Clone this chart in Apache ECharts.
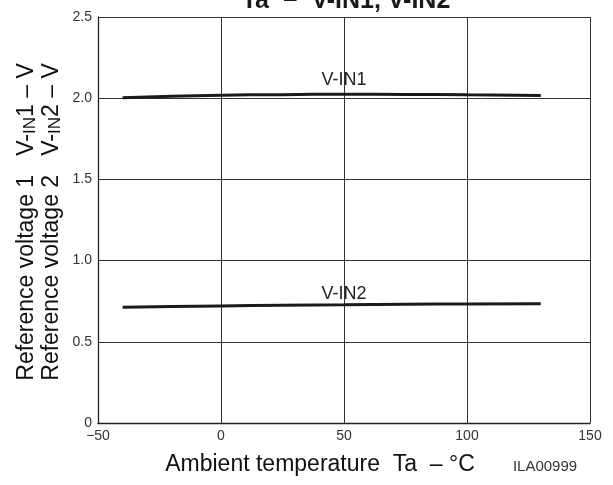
<!DOCTYPE html>
<html><head><meta charset="utf-8">
<script src="https://cdn.jsdelivr.net/npm/echarts@6/dist/echarts.min.js"></script>
<style>html,body{margin:0;padding:0;background:#fff}#c{width:613px;height:485px}</style>
</head><body><div id="c"></div>
<script>
var temps = [-40, -20, 0, 25, 50, 75, 100, 130];
var vin1 = [2.003, 2.012, 2.018, 2.022, 2.024, 2.023, 2.021, 2.016];
var vin2 = [0.712, 0.717, 0.721, 0.725, 0.728, 0.731, 0.733, 0.735];
var xTicks = [-50, 0, 50, 100, 150];
var yTicks = [0, 0.5, 1.0, 1.5, 2.0, 2.5];
var FONT = '"Liberation Sans", Arial, sans-serif';
function pairs(xs, ys){ return xs.map(function(x,i){return [x, ys[i]];}); }
var chart = echarts.init(document.getElementById('c'), null, {renderer:'canvas'});
function ytitle(x, n){
  return {type:'text', x:x, y:222, rotation:Math.PI/2,
    style:{text:'{a|Reference voltage '+n+'   V-}{s|IN}{a|'+n+' – V}', textAlign:'center', textVerticalAlign:'middle',
      rich:{a:{fontFamily:FONT, fontSize:23, fill:'#111'}, s:{fontFamily:FONT, fontSize:17, fill:'#111', padding:[6,0,0,0]}}}};
}
chart.setOption({
  animation:false,
  title:{text:'Ta  −  V-IN1, V-IN2', left:341, top:-16, textAlign:'center',
    textStyle:{fontFamily:FONT, fontSize:25, fontWeight:'bold', color:'#1a1a1a'}},
  grid:{left:98, right:23, top:17, bottom:62},
  xAxis:{type:'value', min:-50, max:150, interval:50,
    axisLine:{show:true, onZero:false, lineStyle:{color:'#222', width:1.3}},
    axisTick:{show:false},
    splitLine:{show:true, lineStyle:{color:'#333', width:1}},
    axisLabel:{fontFamily:FONT, fontSize:14, color:'#333', margin:6,
      formatter:function(v){ return xTicks.indexOf(v)>=0 ? String(v).replace('-','−') : ''; }}},
  yAxis:{type:'value', min:0, max:2.5, interval:0.5,
    axisLine:{show:true, onZero:false, lineStyle:{color:'#222', width:1.3}},
    axisTick:{show:false},
    splitLine:{show:true, lineStyle:{color:'#333', width:1}},
    axisLabel:{fontFamily:FONT, fontSize:14, color:'#333', margin:6,
      formatter:function(v){ return v===0 ? '0' : v.toFixed(1); }}},
  graphic:[
    ytitle(27, 1),
    ytitle(52, 2),
    {type:'text', x:320, y:465, style:{text:'Ambient temperature  Ta  – °C', font:'23px '+FONT, fill:'#111', textAlign:'center', textVerticalAlign:'middle'}},
    {type:'text', x:545, y:467, style:{text:'ILA00999', font:'15px '+FONT, fill:'#333', textAlign:'center', textVerticalAlign:'middle'}}
  ],
  series:[
    {type:'line', data:pairs(temps, vin1), smooth:true, symbol:'none',
      lineStyle:{color:'#1a1a1a', width:3},
      markPoint:{symbol:'circle', symbolSize:1, itemStyle:{color:'rgba(0,0,0,0)'},
        data:[{coord:[50, vin1[4]], label:{show:true, formatter:'V-IN1', offset:[0,-14], fontFamily:FONT, fontSize:18, color:'#222'}}]}},
    {type:'line', data:pairs(temps, vin2), smooth:true, symbol:'none',
      lineStyle:{color:'#1a1a1a', width:3},
      markPoint:{symbol:'circle', symbolSize:1, itemStyle:{color:'rgba(0,0,0,0)'},
        data:[{coord:[50, vin2[4]], label:{show:true, formatter:'V-IN2', offset:[0,-11], fontFamily:FONT, fontSize:18, color:'#222'}}]}}
  ]
});
</script></body></html>
